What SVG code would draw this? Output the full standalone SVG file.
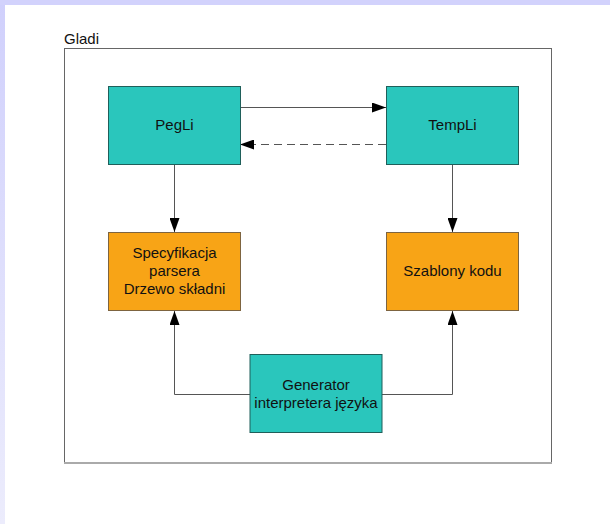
<svg xmlns="http://www.w3.org/2000/svg" width="610" height="524" viewBox="0 0 610 524">
<defs>
<linearGradient id="lg" x1="0" y1="0" x2="0" y2="1">
<stop offset="0" stop-color="#d0d0fc"/>
<stop offset="1" stop-color="#ececfc"/>
</linearGradient>
<marker id="ah" viewBox="0 0 14 10" refX="14" refY="5" markerWidth="14" markerHeight="10" markerUnits="userSpaceOnUse" orient="auto">
<path d="M0,0 L14,5 L0,10 Z" fill="#000"/>
</marker>
<style>
text{font-family:"Liberation Sans",Arial,sans-serif;font-size:15px;fill:#111;text-anchor:middle}
.teal{fill:#2ac6bc;stroke:#1f5f5a;stroke-width:1}
.orange{fill:#f8a416;stroke:#7d6440;stroke-width:1}
.c{fill:none;stroke:#555;stroke-width:1}
</style>
</defs>
<rect x="0" y="0" width="610" height="524" fill="#fff"/>
<rect x="0" y="0" width="5" height="524" fill="url(#lg)"/>
<rect x="0" y="0" width="610" height="5" fill="#d2d2fc"/>
<g id="gladi">
<text x="64" y="44" style="text-anchor:start">Gladi</text>
<rect x="64.5" y="48.5" width="487" height="414" fill="#fff" stroke="#666"/>
<line x1="64" y1="463" x2="552" y2="463" stroke="#aaa" stroke-width="2"/>
</g>
<g id="connectors">
<line class="c" x1="240" y1="107.5" x2="386" y2="107.5" marker-end="url(#ah)"/>
<line class="c" x1="386" y1="144.5" x2="240" y2="144.5" stroke-dasharray="8,5" marker-end="url(#ah)"/>
<line class="c" x1="174.5" y1="165" x2="174.5" y2="232" marker-end="url(#ah)"/>
<line class="c" x1="452.5" y1="165" x2="452.5" y2="232" marker-end="url(#ah)"/>
<path class="c" d="M250,394.5 H174.5 V311" marker-end="url(#ah)"/>
<path class="c" d="M382,394.5 H452.5 V311" marker-end="url(#ah)"/>
</g>
<g id="pegli">
<rect class="teal" x="108.5" y="86.5" width="132" height="78"/>
<text x="174.5" y="130">PegLi</text>
</g>
<g id="templi">
<rect class="teal" x="386.5" y="86.5" width="132" height="78"/>
<text x="452.5" y="130">TempLi</text>
</g>
<g id="spec">
<rect class="orange" x="108.5" y="232.5" width="132" height="78"/>
<text x="174.5" y="258">Specyfikacja</text>
<text x="174.5" y="276">parsera</text>
<text x="174.5" y="294">Drzewo składni</text>
</g>
<g id="szablony">
<rect class="orange" x="386.5" y="232.5" width="132" height="78"/>
<text x="452.5" y="276">Szablony kodu</text>
</g>
<g id="generator">
<rect class="teal" x="250" y="354.5" width="132" height="78"/>
<text x="316" y="390">Generator</text>
<text x="316" y="408">interpretera języka</text>
</g>
</svg>
